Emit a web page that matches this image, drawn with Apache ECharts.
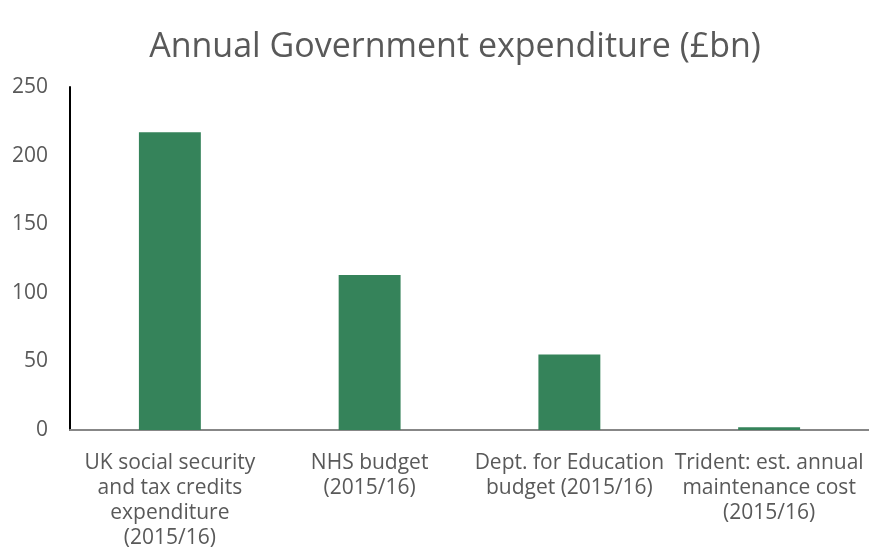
<!DOCTYPE html>
<html>
<head>
<meta charset="utf-8">
<script src="https://cdn.jsdelivr.net/npm/echarts@6/dist/echarts.min.js"></script>
<style>
  html, body { margin: 0; padding: 0; background: #fff; }
  #chart { width: 869px; height: 559px; }
</style>
</head>
<body>
<div id="chart"></div>
<script>
// Spending categories (line breaks set where the labels wrap)
const categories = [
  'UK social security\nand tax credits\nexpenditure\n(2015/16)',
  'NHS budget\n(2015/16)',
  'Dept. for Education\nbudget (2015/16)',
  'Trident: est. annual\nmaintenance cost\n(2015/16)'
];
// Annual spend, £bn
const spend = [217, 113, 55, 2];
// Value axis ticks
const yTicks = [0, 50, 100, 150, 200, 250];

const textColor = '#595959';
const font = '"Open Sans", "Noto Sans", sans-serif';

const chart = echarts.init(document.getElementById('chart'));
chart.setOption({
  animation: false,
  title: {
    text: 'Annual Government expenditure (£bn)',
    left: 450,
    textAlign: 'center',
    top: 25,
    textStyle: { color: textColor, fontFamily: font, fontSize: 34, fontWeight: 'normal' }
  },
  grid: { left: 70, right: 0, top: 87, bottom: 129 },
  xAxis: {
    type: 'category',
    data: categories,
    axisLine: { lineStyle: { color: '#878787', width: 2 } },
    axisTick: { show: false },
    axisLabel: {
      color: textColor, fontFamily: font, fontSize: 21, lineHeight: 25,
      margin: 21, interval: 0, align: 'center'
    }
  },
  yAxis: {
    type: 'value',
    min: yTicks[0],
    max: yTicks[yTicks.length - 1],
    interval: yTicks[1] - yTicks[0],
    splitLine: { show: false },
    axisLine: { show: true, lineStyle: { color: '#000', width: 2 } },
    axisTick: { show: false },
    axisLabel: { color: textColor, fontFamily: font, fontSize: 21, margin: 22 }
  },
  series: [{
    type: 'bar',
    data: spend,
    barWidth: '31%',
    itemStyle: { color: '#35835A' }
  }]
});
</script>
</body>
</html>
